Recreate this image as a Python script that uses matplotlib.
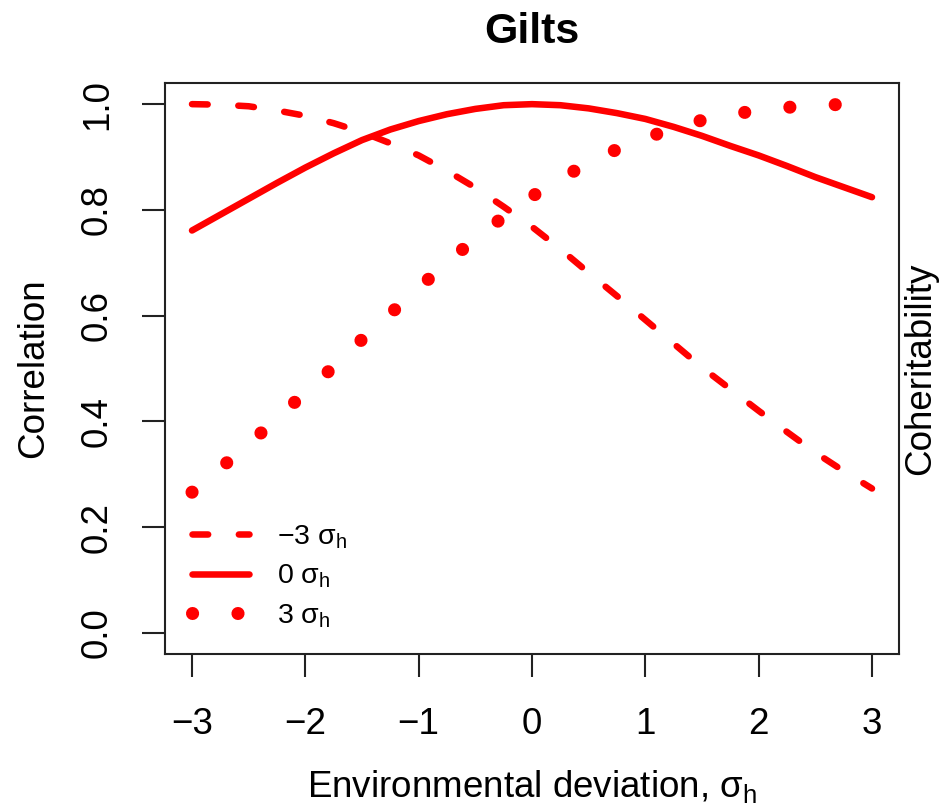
import matplotlib
matplotlib.use("Agg")
import matplotlib.pyplot as plt

plt.rcParams['font.family'] = ['Liberation Sans', 'DejaVu Sans']
plt.rcParams['mathtext.fontset'] = 'custom'
plt.rcParams['mathtext.rm'] = 'Liberation Sans'
plt.rcParams['mathtext.it'] = 'Liberation Sans'
plt.rcParams['mathtext.bf'] = 'Liberation Sans:bold'

# Values
x_grid = [-3.0, -2.75, -2.5, -2.25, -2.0, -1.75, -1.5, -1.25, -1.0, -0.75, -0.5, -0.25, 0.0,
          0.25, 0.5, 0.75, 1.0, 1.25, 1.5, 1.75, 2.0, 2.25, 2.5, 2.75, 3.0]
corr_minus3 = [1.000, 0.999, 0.996, 0.988, 0.978, 0.964, 0.947, 0.926, 0.903, 0.874, 0.842, 0.806, 0.768,
               0.726, 0.681, 0.637, 0.592, 0.547, 0.502, 0.461, 0.420, 0.380, 0.341, 0.306, 0.273]
corr_zero = [0.761, 0.791, 0.821, 0.851, 0.880, 0.907, 0.932, 0.952, 0.968, 0.981, 0.991, 0.998, 1.000,
             0.998, 0.992, 0.983, 0.972, 0.957, 0.940, 0.921, 0.903, 0.883, 0.862, 0.843, 0.824]

x_plus3 = [-3.0, -2.697, -2.397, -2.100, -1.803, -1.515, -1.218, -0.924, -0.620, -0.311,
           0.018, 0.359, 0.712, 1.083, 1.467, 1.862, 2.256, 2.659, 3.0]
corr_plus3 = [0.266, 0.321, 0.377, 0.435, 0.493, 0.552, 0.610, 0.667, 0.724, 0.777,
              0.828, 0.872, 0.911, 0.942, 0.968, 0.984, 0.994, 0.999, 1.000]

series_labels = ['\u22123 $σ_h$', '0 $σ_h$', '3 $σ_h$']
x_ticks = [-3, -2, -1, 0, 1, 2, 3]
x_tick_labels = ['\u22123', '\u22122', '\u22121', '0', '1', '2', '3']
y_ticks = [0.0, 0.2, 0.4, 0.6, 0.8, 1.0]
y_tick_labels = ['0.0', '0.2', '0.4', '0.6', '0.8', '1.0']

W, H = 942, 806
fig = plt.figure(figsize=(W / 100, H / 100), dpi=100)
left, right, top, bottom = 164.8, 899.2, 83, 654
ax = fig.add_axes([left / W, (H - bottom) / H, (right - left) / W, (bottom - top) / H])

red = '#ff0000'
lw = 4.7  # ~6.5 px
l1, = ax.plot(x_grid, corr_minus3, color=red, lw=lw, dashes=(2.4, 4.7),
              dash_capstyle='round', label=series_labels[0])
l2, = ax.plot(x_grid, corr_zero, color=red, lw=lw, solid_capstyle='round',
              solid_joinstyle='round', label=series_labels[1])
l3, = ax.plot(x_plus3, corr_plus3, color=red, lw=9.4, dashes=(0.01, 3.47),
              dash_capstyle='round', label=series_labels[2])

ax.set_xlim(-3.24, 3.24)
ax.set_ylim(-0.04, 1.04)
ax.set_xticks(x_ticks)
ax.set_xticklabels(x_tick_labels)
ax.set_yticks(y_ticks)
ax.set_yticklabels(y_tick_labels)

edge = '#222222'
for sp in ax.spines.values():
    sp.set_linewidth(1.5)
    sp.set_color(edge)
ax.tick_params(axis='both', direction='out', length=16.4, width=1.5, color=edge,
               labelsize=26.5)
ax.tick_params(axis='x', pad=22)
ax.tick_params(axis='y', pad=19.5)
for lbl in ax.get_yticklabels():
    lbl.set_rotation(90)
    lbl.set_verticalalignment('center')

ax.set_title('Gilts', fontsize=31, fontweight='bold', pad=29)

ax.set_xlabel('Environmental deviation, $σ_h$', fontsize=26.5)
ax.xaxis.label.set_verticalalignment('baseline')
ax.xaxis.set_label_coords(0.5, (bottom - 797) / (bottom - top))

ax.set_ylabel('Correlation', fontsize=26.5)
ax.yaxis.label.set_verticalalignment('baseline')
ax.yaxis.set_label_coords((43 - left) / (right - left), 0.5)

ax.text((930 - left) / (right - left), 0.5, 'Coheritability', fontsize=26.5,
        rotation=90, rotation_mode='anchor', ha='center', va='baseline',
        transform=ax.transAxes)

ax.legend(handles=[l1, l2, l3], loc='center left',
          bbox_to_anchor=((192 - left) / (right - left), (bottom - 576.5) / (bottom - top)),
          frameon=False, fontsize=20.5, handlelength=2.0, handletextpad=1.0,
          labelspacing=0.42, borderpad=0, borderaxespad=0)

fig.savefig('out.png', dpi=100)
